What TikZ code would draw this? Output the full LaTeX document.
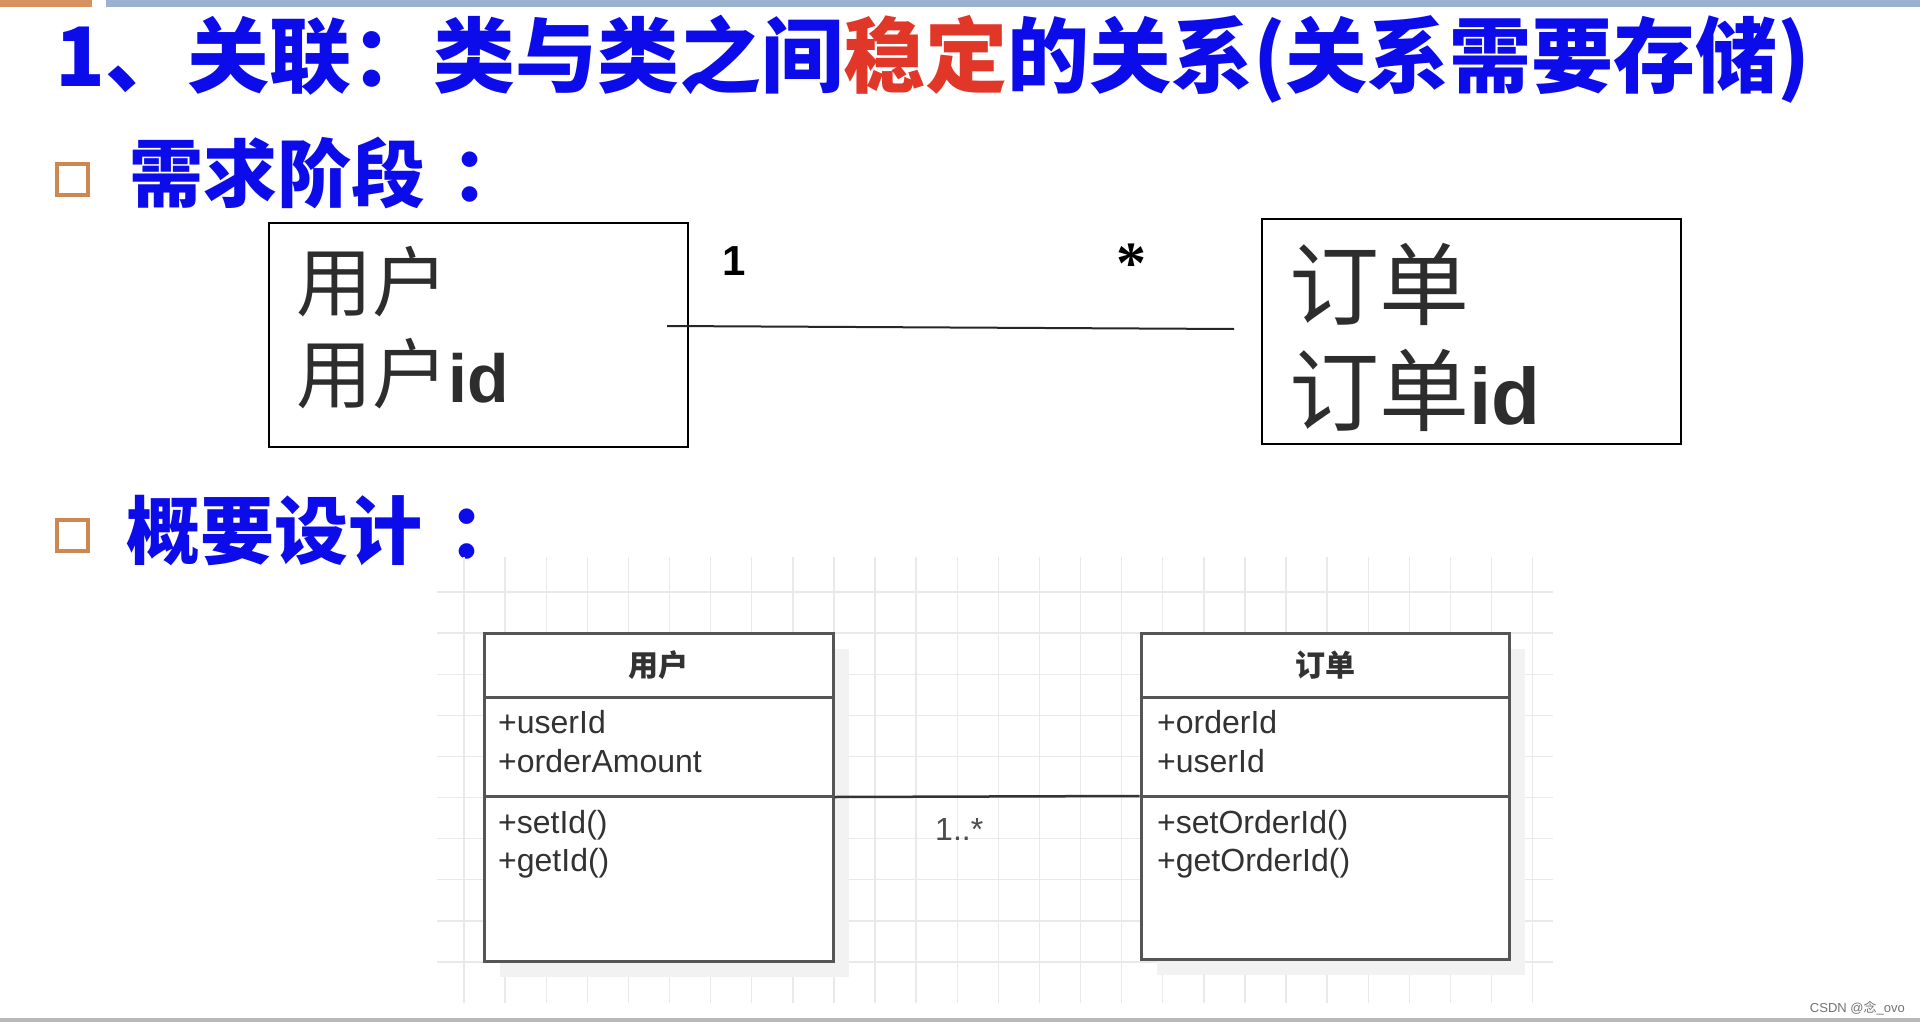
\documentclass[tikz,border=0pt]{standalone}
\usepackage{fontspec}
\setmainfont{Liberation Sans}
\newfontfamily\cjk{Noto Sans CJK SC}
\newfontfamily\astfont{Liberation Serif}
\definecolor{tblue}{RGB}{12,12,235}
\definecolor{tred}{RGB}{225,55,40}
\definecolor{bulletc}{RGB}{205,135,80}
\definecolor{barorange}{RGB}{215,145,95}
\definecolor{barblue}{RGB}{155,177,208}
\definecolor{gridc}{RGB}{233,233,233}
\definecolor{umlline}{RGB}{85,85,85}
\definecolor{umltext}{RGB}{50,50,50}
\definecolor{reqtext}{RGB}{45,45,45}
\definecolor{shadowc}{RGB}{242,242,242}
\tikzset{
  bulletbox/.style={draw=bulletc, line width=4pt, minimum size=31pt, inner sep=0pt},
  reqbox/.style={draw=black, line width=1.6pt, inner sep=0pt},
  umlbox/.style={draw=umlline, line width=3pt, fill=white, inner sep=0pt},
  gridline/.style={draw=gridc, line width=1.4pt},
  heading/.style={anchor=base west, inner sep=0pt, text=tblue, font=\cjk\bfseries\fontsize{74}{88}\selectfont},
  reqtxt/.style={anchor=base west, inner sep=0pt, text=reqtext},
  umltxt/.style={anchor=base west, inner sep=0pt, text=umltext, font=\fontsize{32}{38}\selectfont},
  umlhead/.style={inner sep=0pt, text=umltext, font=\cjk\bfseries\fontsize{30}{36}\selectfont},
}
\begin{document}
\begin{tikzpicture}[x=1pt,y=-1pt]
\useasboundingbox (0,0) rectangle (1920,1022);
\fill[white] (0,0) rectangle (1920,1022);
% top bars and bottom rule
\fill[barorange] (0,0) rectangle (92,7);
\fill[barblue] (106,0) rectangle (1920,7);
\fill[gray!55] (0,1018) rectangle (1920,1022);
% title
\node[anchor=base west, inner sep=0pt, text=tblue, font=\cjk\bfseries\fontsize{82}{98}\selectfont] (title) at (55,87)
  {1、关联：类与类之间\textcolor{tred}{稳定}的关系(关系需要存储)};
% section 1
\node[bulletbox] (b1) at (72.5,179.5) {};
\node[heading] (h1) at (129,201) {需求阶段\hspace{26pt}：};
\node[reqbox, minimum width=419pt, minimum height=224pt] (user) at (478.5,335) {};
\node[reqbox, minimum width=419pt, minimum height=225pt] (order) at (1471.5,331.5) {};
\node[reqtxt, font=\cjk\fontsize{76}{90}\selectfont] (u1) at (296,310) {用户};
\node[reqtxt, font=\cjk\fontsize{76}{90}\selectfont] (u2) at (296,402) {用户{\rmfamily\bfseries\fontsize{68}{80}\selectfont id}};
\node[reqtxt, font=\cjk\fontsize{90}{106}\selectfont] (o1) at (1289,318) {订单};
\node[reqtxt, font=\cjk\fontsize{90}{106}\selectfont] (o2) at (1289,424) {订单{\rmfamily\bfseries\fontsize{80}{94}\selectfont id}};
\coordinate (ua) at (667,326);
\coordinate (ob) at (1234,329);
\draw[line width=2pt, black!85] (ua) -- (ob);
\node[inner sep=0pt, font=\bfseries\fontsize{42}{50}\selectfont] (m1) at (734,261) {1};
\node[anchor=base, inner sep=0pt, font=\astfont\bfseries\fontsize{60}{70}\selectfont] (m2) at (1131,283) {*};
% section 2
\node[bulletbox] (b2) at (72.5,535.5) {};
\node[heading] (h2) at (126,558) {概要设计\hspace{26pt}：};
% grid
\foreach \i in {0,...,26} \draw[gridline] ({464+41.1*\i},557) -- ({464+41.1*\i},1003);
\foreach \j in {0,...,9} \draw[gridline] (437,{592+41.1*\j}) -- (1553,{592+41.1*\j});
% shadows
\fill[shadowc] (500,649) rectangle (849,977);
\fill[shadowc] (1157,649) rectangle (1525,975);
% class boxes
\node[umlbox, minimum width=349pt, minimum height=328pt] (ucls) at (658.5,797) {};
\node[umlbox, minimum width=368pt, minimum height=326pt] (ocls) at (1325,796) {};
\draw[umlline, line width=3pt] (484,697) -- (833,697);
\draw[umlline, line width=3pt] (1141,697) -- (1509,697);
\draw[umlline, line width=3pt] (484,796) -- (833,796);
\draw[umlline, line width=3pt] (1141,796) -- (1509,796);
\node[umlhead] (uh) at (658.5,665) {用户};
\node[umlhead] (oh) at (1325,665) {订单};
\node[umltxt] (ua1) at (498,733) {+userId};
\node[umltxt] (ua2) at (498,772) {+orderAmount};
\node[umltxt] (um1) at (498,833) {+setId()};
\node[umltxt] (um2) at (498,871) {+getId()};
\node[umltxt] (oa1) at (1157,733) {+orderId};
\node[umltxt] (oa2) at (1157,772) {+userId};
\node[umltxt] (om1) at (1157,833) {+setOrderId()};
\node[umltxt] (om2) at (1157,871) {+getOrderId()};
\draw[line width=2.5pt, black!80] (ucls.east) -- (ocls.west);
\node[anchor=base west, inner sep=0pt, text=black!70, font=\fontsize{32}{38}\selectfont] (mult) at (935,840) {1..*};
% watermark
\node[anchor=base east, inner sep=0pt, text=black!55, font=\fontsize{13}{16}\selectfont] (wm) at (1905,1012) {CSDN @{\cjk 念}\_ovo};
\end{tikzpicture}
\end{document}
